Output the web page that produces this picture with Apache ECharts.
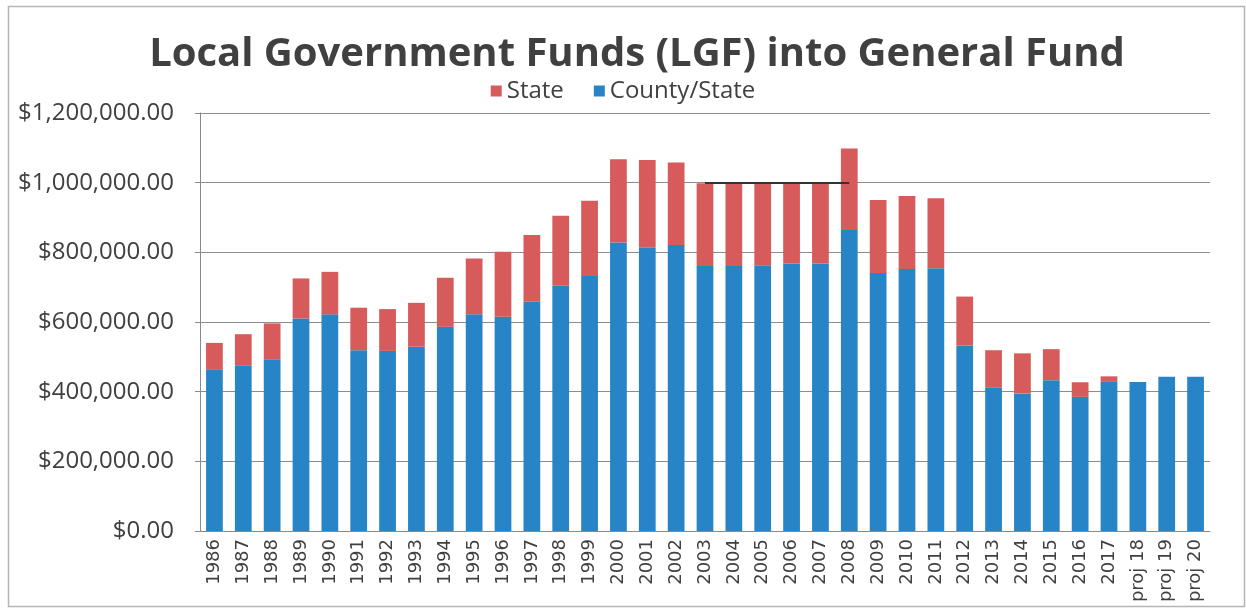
<!DOCTYPE html>
<html>
<head>
<meta charset="utf-8">
<title>Local Government Funds (LGF) into General Fund</title>
<script src="https://cdn.jsdelivr.net/npm/echarts@6/dist/echarts.min.js"></script>
<style>
  html, body { margin: 0; padding: 0; background: #ffffff; }
  #chart { width: 1246px; height: 613px; }
</style>
</head>
<body>
<div id="chart"></div>
<script>
// Fiscal years, with the last three being projections
const years = [
  '1986', '1987', '1988', '1989', '1990', '1991', '1992', '1993', '1994', '1995',
  '1996', '1997', '1998', '1999', '2000', '2001', '2002', '2003', '2004', '2005',
  '2006', '2007', '2008', '2009', '2010', '2011', '2012', '2013', '2014', '2015',
  '2016', '2017', 'proj 18', 'proj 19', 'proj 20'
];

// County/State share of LGF (bottom of each stack)
const countyState = [
  464000, 476000, 493000, 610000, 622000, 519000, 517000, 529000, 586000, 622000,
  615000, 658000, 704000, 732000, 828000, 813000, 821000, 761000, 761000, 763000,
  768000, 768000, 864000, 741000, 752000, 754000, 532000, 411000, 395000, 433000,
  385000, 428000, 428000, 443000, 443000
];

// State share of LGF (stacked on top)
const stateShare = [
  76000, 89000, 103000, 115000, 122000, 122000, 120000, 126000, 141000, 160000,
  187000, 192000, 201000, 216000, 239000, 252000, 237000, 237000, 237000, 235000,
  234000, 234000, 234000, 209000, 210000, 201000, 141000, 108000, 115000, 89000,
  42000, 16000, 0, 0, 0
];

// Value-axis ticks
const yMin = 0;
const yMax = 1200000;
const yStep = 200000;

// Reference level drawn across the plateau years
const plateauLevel = 1000000;
const plateauFrom = '2003';
const plateauTo = '2008';

const RED = '#D65B5A';
const BLUE = '#2784C6';
const TEXT = '#404040';

const money = v => '$' + v.toLocaleString('en-US', { minimumFractionDigits: 2, maximumFractionDigits: 2 });

const chart = echarts.init(document.getElementById('chart'), null, { renderer: 'canvas' });

chart.setOption({
  backgroundColor: '#ffffff',
  animation: false,
  title: {
    text: 'Local Government Funds (LGF) into General Fund',
    left: 632,
    textAlign: 'center',
    top: 30,
    textStyle: {
      fontFamily: 'Open Sans',
      fontWeight: 'bold',
      fontSize: 40,
      color: TEXT
    }
  },
  legend: {
    data: ['State', 'County/State'],
    left: 'center',
    top: 74,
    itemWidth: 11,
    itemHeight: 11,
    itemGap: 30,
    icon: 'rect',
    textStyle: {
      fontFamily: 'Open Sans',
      fontSize: 24,
      color: TEXT
    }
  },
  grid: {
    left: 200,
    right: 36,
    top: 113,
    bottom: 82,
    containLabel: false
  },
  xAxis: {
    type: 'category',
    data: years,
    axisLine: { lineStyle: { color: '#8a8a8a', width: 1 } },
    axisTick: { show: false },
    axisLabel: {
      rotate: 90,
      interval: 0,
      margin: 8,
      fontFamily: 'DejaVu Sans',
      fontSize: 18,
      color: TEXT
    }
  },
  yAxis: {
    type: 'value',
    min: yMin,
    max: yMax,
    interval: yStep,
    axisLine: { show: true, lineStyle: { color: '#8a8a8a', width: 1 } },
    axisTick: { show: true, length: 5, lineStyle: { color: '#8a8a8a' } },
    splitLine: { lineStyle: { color: '#8c8c8c', width: 1 } },
    axisLabel: {
      formatter: money,
      margin: 26,
      fontFamily: 'Open Sans',
      fontSize: 24,
      color: TEXT
    }
  },
  series: [
    {
      name: 'County/State',
      type: 'bar',
      stack: 'lgf',
      data: countyState,
      barCategoryGap: '42%',
      itemStyle: { color: BLUE },
      markLine: {
        silent: true,
        symbol: 'none',
        label: { show: false },
        lineStyle: { color: '#333333', width: 2, type: 'solid' },
        data: [[
          { coord: [plateauFrom, plateauLevel] },
          { coord: [plateauTo, plateauLevel] }
        ]]
      }
    },
    {
      name: 'State',
      type: 'bar',
      stack: 'lgf',
      data: stateShare,
      barCategoryGap: '42%',
      itemStyle: { color: RED }
    }
  ],
  graphic: [
    {
      type: 'rect',
      silent: true,
      z: -1,
      shape: { x: 8.5, y: 6.5, width: 1236, height: 600 },
      style: { fill: 'none', stroke: '#b5b5b5', lineWidth: 1.5 }
    }
  ]
});
</script>
</body>
</html>
